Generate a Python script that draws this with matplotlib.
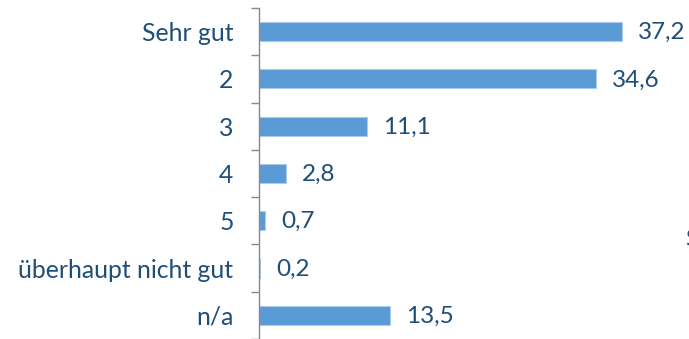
import numpy as np
import matplotlib.pyplot as plt

categories = ["Sehr gut", "2", "3", "4", "5", "überhaupt nicht gut", "n/a"]
values = [37.2, 34.6, 11.1, 2.8, 0.7, 0.2, 13.5]

bar_color = "#5B9BD5"
text_color = "#1F4E79"

plt.rcParams['font.family'] = ['Lato', 'DejaVu Sans']

fig = plt.figure(figsize=(6.89, 3.39), dpi=100)
ax = fig.add_axes([258.5 / 689, 0.0, 1 - 258.5 / 689, 331 / 339])

ys = np.arange(len(categories))
ax.barh(ys, values, height=0.4, color=bar_color, edgecolor="#A9CBEA", linewidth=0.8)

for y, v in zip(ys, values):
    ax.annotate(f"{v:.1f}".replace(".", ","), (v, y), xytext=(16, -1),
                textcoords="offset pixels", va="center", ha="left",
                fontsize=17.5, color=text_color)

ax.set_xlim(0, (689 - 258.5) / 9.76)
ax.set_ylim(len(categories) - 0.5, -0.5)

# boundary ticks as major, labels on minor ticks at the bar centres
ax.set_yticks(np.arange(-0.5, len(categories), 1.0))
ax.set_yticklabels([])
ax.set_yticks(ys, minor=True)
ax.set_yticklabels(categories, minor=True, fontsize=17.8, color=text_color)
ax.tick_params(axis="y", which="major", length=6, width=1, color="#888888")
ax.tick_params(axis="y", which="minor", length=0, pad=18)

ax.set_xticks([])
for side in ["top", "right", "bottom"]:
    ax.spines[side].set_visible(False)
ax.spines["left"].set_color("#888888")
ax.spines["left"].set_linewidth(1)

fig.text(685 / 689, 1 - 240 / 339, "S", fontsize=17.5, color=text_color, va="center", ha="left")

fig.savefig("out.png", dpi=100)
